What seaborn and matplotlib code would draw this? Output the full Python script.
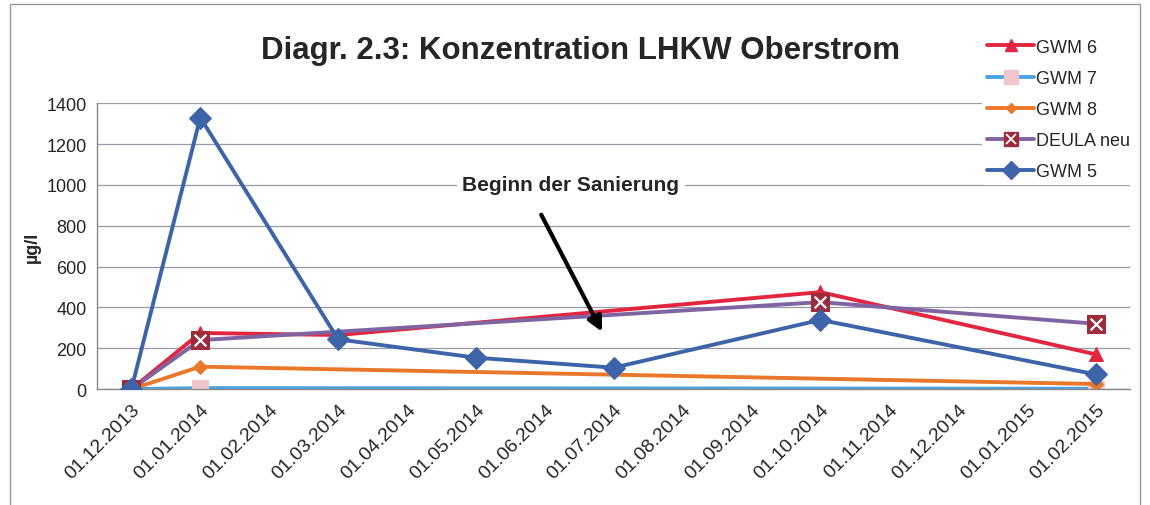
import pandas as pd
import seaborn as sns
import matplotlib.pyplot as plt
import matplotlib as mpl
from matplotlib.lines import Line2D
from matplotlib.patches import Rectangle
from matplotlib.legend_handler import HandlerTuple

# Data
month_labels = ['01.12.2013', '01.01.2014', '01.02.2014', '01.03.2014', '01.04.2014',
                '01.05.2014', '01.06.2014', '01.07.2014', '01.08.2014', '01.09.2014',
                '01.10.2014', '01.11.2014', '01.12.2014', '01.01.2015', '01.02.2015']

gwm6_dates = ['01.12.2013', '01.01.2014', '01.03.2014', '01.10.2014', '01.02.2015']
gwm6_vals = [0, 275, 265, 475, 170]

gwm7_dates = ['01.12.2013', '01.01.2014', '01.02.2015']
gwm7_vals = [0, 5, 2]

gwm8_dates = ['01.12.2013', '01.01.2014', '01.02.2015']
gwm8_vals = [0, 110, 25]

deula_dates = ['01.12.2013', '01.01.2014', '01.10.2014', '01.02.2015']
deula_vals = [0, 240, 426, 320]

gwm5_dates = ['01.12.2013', '01.01.2014', '01.03.2014', '01.05.2014', '01.07.2014',
              '01.10.2014', '01.02.2015']
gwm5_vals = [0, 1330, 244, 154, 105, 339, 72]

series = [
    ('GWM 6', gwm6_dates, gwm6_vals),
    ('GWM 7', gwm7_dates, gwm7_vals),
    ('GWM 8', gwm8_dates, gwm8_vals),
    ('DEULA neu', deula_dates, deula_vals),
    ('GWM 5', gwm5_dates, gwm5_vals),
]

# style per series: line color, marker, marker face, marker size
styles = {
    'GWM 6': dict(color='#E3263F', marker='^', mfc='#E3263F', ms=10),
    'GWM 7': dict(color='#4BA3E0', marker='s', mfc='#F2C4CB', ms=12),
    'GWM 8': dict(color='#E9782A', marker='D', mfc='#E9782A', ms=7),
    'DEULA neu': dict(color='#8064A2', marker='s', mfc='#9E2B3A', ms=13),
    'GWM 5': dict(color='#3D64A8', marker='D', mfc='#3D64A8', ms=11),
}

# month index along the axis (Excel date axis, one slot per month)
def month_index(dates):
    start = pd.Period('2013-12', freq='M')
    return [(pd.Period(pd.to_datetime(d, format='%d.%m.%Y'), freq='M') - start).n for d in dates]

rows = []
for name, dates, vals in series:
    for m, v in zip(month_index(dates), vals):
        rows.append({'serie': name, 'monat': m, 'wert': v})
df = pd.DataFrame(rows)

sns.set_style('white')
mpl.rcParams['font.family'] = ['Liberation Sans', 'DejaVu Sans']

fig = plt.figure(figsize=(11.5, 5.06), dpi=100)
ax = fig.add_axes([0.0843, 0.229, 0.8987, 0.565])

handles = []
for name, _, _ in series:
    st = styles[name]
    sub = df[df['serie'] == name]
    sns.lineplot(data=sub, x='monat', y='wert', ax=ax, color=st['color'], linewidth=2.8,
                 marker=st['marker'], markersize=st['ms'], markerfacecolor=st['mfc'],
                 markeredgecolor=st['mfc'], legend=False, sort=False)
    h = Line2D([], [], color=st['color'], linewidth=2.8, marker=st['marker'],
               markersize=st['ms'] * 0.8, markerfacecolor=st['mfc'], markeredgecolor=st['mfc'])
    if name == 'DEULA neu':
        ax.scatter(sub['monat'], sub['wert'], marker='x', s=70, color='white',
                   linewidths=1.6, zorder=5)
        hx = Line2D([], [], linestyle='none', marker='x', markersize=7,
                    color='white', markeredgewidth=1.3)
        handles.append((h, hx))
    else:
        handles.append(h)

# GWM 5 on top
ax.lines[-1].set_zorder(6)

# axes
ax.set_xlim(-0.5, 14.5)
ax.set_ylim(0, 1400)
ax.set_yticks(range(0, 1401, 200))
ax.set_xticks(range(len(month_labels)))
ax.set_xticklabels(month_labels, rotation=45, ha='right', rotation_mode='anchor', fontsize=14)
ax.set_xticks([i - 0.5 for i in range(len(month_labels) + 1)], minor=True)
ax.tick_params(axis='x', which='major', length=0, pad=8)
ax.tick_params(axis='x', which='minor', length=5, color='#888888', direction='out')
ax.tick_params(axis='y', length=4, color='#888888', direction='out', labelsize=13)
ax.grid(axis='y', color='#9a9aa8', linewidth=0.9, linestyle='-')
ax.grid(axis='x', visible=False)
for s in ['top', 'right']:
    ax.spines[s].set_visible(False)
for s in ['left', 'bottom']:
    ax.spines[s].set_color('#888888')
    ax.spines[s].set_linewidth(1)
ax.set_xlabel('')
ax.set_ylabel('µg/l', fontsize=13, fontweight='bold', labelpad=4)

# annotation
ax.text(6.38, 1000, 'Beginn der Sanierung', fontsize=15, fontweight='bold', ha='center',
        va='center', zorder=7,
        bbox=dict(facecolor='white', edgecolor='none', pad=4))
ax.annotate('', xy=(6.85, 269), xytext=(5.93, 866),
            arrowprops=dict(arrowstyle='-|>', color='black', lw=3, mutation_scale=22),
            zorder=7)

# title
fig.text(0.505, 0.9, 'Diagr. 2.3: Konzentration LHKW Oberstrom', fontsize=22.5,
         fontweight='bold', ha='center', va='center')

# legend
leg = fig.legend(handles, [s[0] for s in series], loc='upper left',
                 bbox_to_anchor=(0.846, 0.95), frameon=True, fontsize=13,
                 handlelength=2.6, labelspacing=0.78, borderpad=0.3, handletextpad=0.1,
                 handler_map={tuple: HandlerTuple(ndivide=1)})
leg.get_frame().set_facecolor('white')
leg.get_frame().set_edgecolor('none')
leg.get_frame().set_alpha(1)

# chart border
fig.patches.append(Rectangle((0.009, -0.01), 0.982, 1.0, transform=fig.transFigure,
                             fill=False, edgecolor='#999999', linewidth=1))

plt.savefig('out.png', dpi=100)
